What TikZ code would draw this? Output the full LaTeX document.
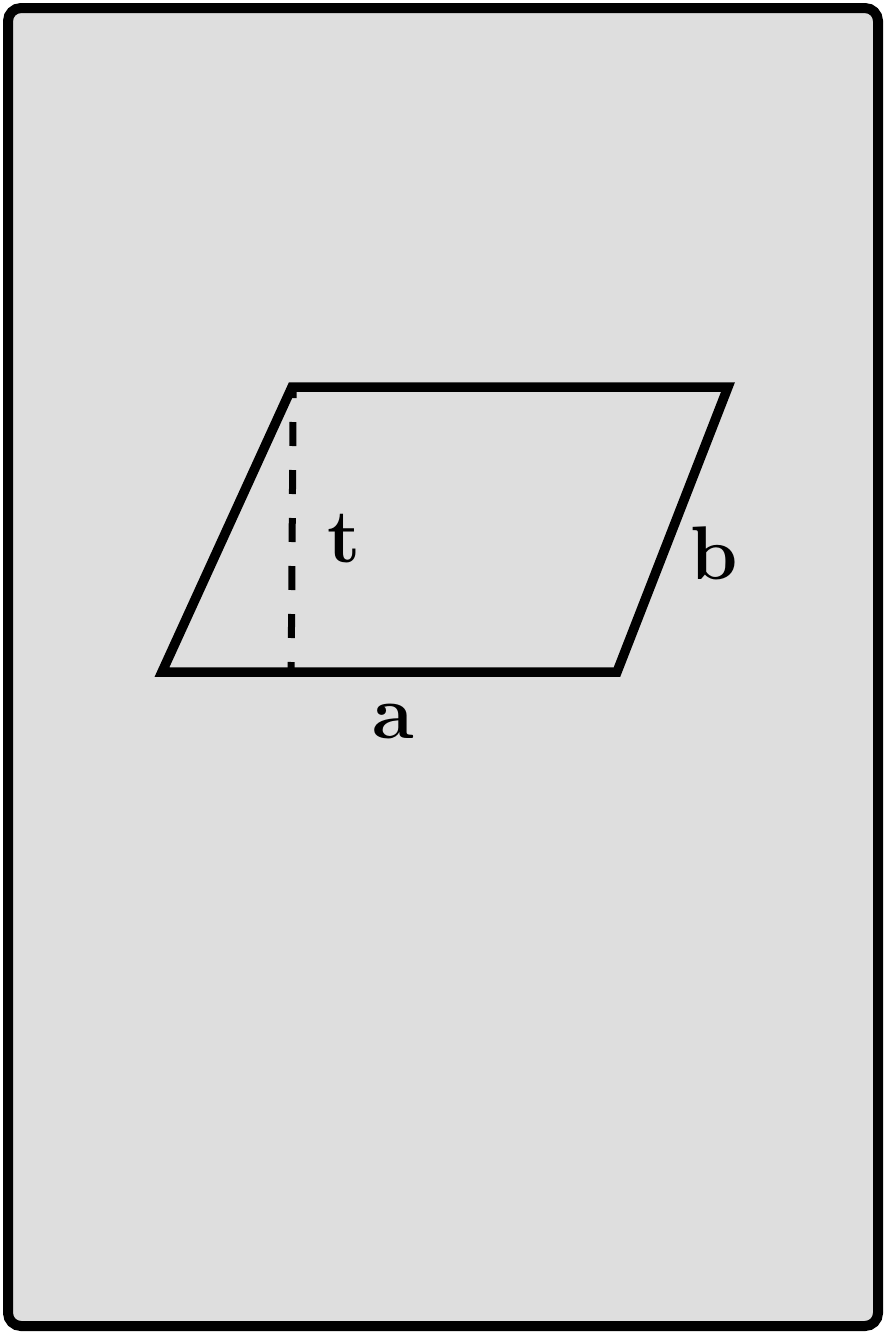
\documentclass[tikz,border=0pt]{standalone}
\usepackage{tikz}
\usepackage{xcolor}

\definecolor{panelgray}{RGB}{222,222,222}

\tikzset{
  edge/.style={line width=9.5pt, line join=miter},
  height/.style={line width=7pt, dash pattern=on 24pt off 24pt, dash phase=18pt},
  lbl/.style={inner sep=0pt, font=\fontsize{76}{80}\selectfont\bfseries}
}

\begin{document}
\begin{tikzpicture}[x=1pt,y=1pt,yscale=-1,xscale=1]
        \useasboundingbox (0,0) rectangle (886,1334);
        %Shape: Rectangle [id:panel] 
        \draw  [line width=10pt, rounded corners=13pt, fill=panelgray] (8,8) rectangle (878,1326) ;

        % corners of the parallelogram
        \coordinate (bl) at (162,672);
        \coordinate (br) at (617,672);
        \coordinate (tr) at (728,387);
        \coordinate (tl) at (292,387);
        \coordinate (ft) at (293.2,392);
        \coordinate (fb) at (291.2,668);

        %Shape: Parallelogram [id:para] 
        \draw  [edge] (bl) -- (br) -- (tr) -- (tl) -- cycle ;
        %Straight Lines [id:heightline] 
        \draw  [height] (ft) -- (fb) ;

        % Text Node
        \node [lbl] (t) at (344,539) {t};
        % Text Node
        \node [lbl] (b) at (714,553) {b};
        % Text Node
        \node [lbl] (a) at (393,722) {a};
\end{tikzpicture}
\end{document}
